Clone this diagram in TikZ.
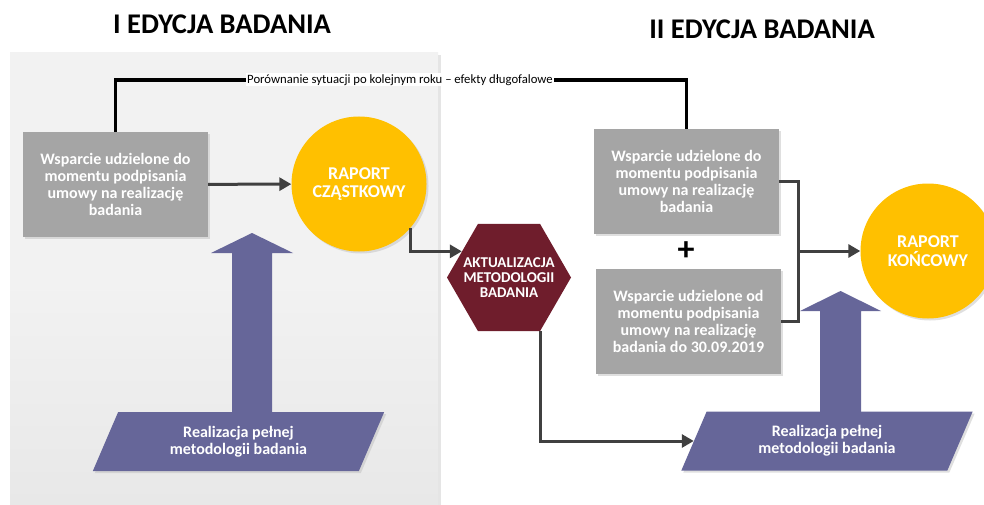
\documentclass[tikz,border=0pt]{standalone}
\usepackage{fontspec}
\setmainfont{Carlito}
\usetikzlibrary{positioning}
\usetikzlibrary{shapes.geometric}
\usetikzlibrary{arrows.meta}
\usetikzlibrary{shadows}

\definecolor{boxgray}{HTML}{A5A5A5}
\definecolor{raportyellow}{HTML}{FFC000}
\definecolor{methodred}{HTML}{6F1D2C}
\definecolor{realpurple}{HTML}{666699}
\definecolor{linegray}{HTML}{404040}
\definecolor{paneltop}{HTML}{F2F2F2}
\definecolor{panelbottom}{HTML}{E8E8E8}

\tikzset{
  softshadow/.style={drop shadow={shadow xshift=2pt, shadow yshift=-2pt, fill=black!25, opacity=0.5}},
  edtitle/.style={font=\bfseries\fontsize{28.5}{32}\selectfont},
  wspbox/.style={fill=boxgray, text=white, softshadow, align=center, inner sep=0pt,
    minimum width=185pt, minimum height=105pt, font=\bfseries\fontsize{16}{16.8}\selectfont},
  raport/.style={circle, fill=raportyellow, text=white, softshadow, align=center, inner sep=0pt,
    minimum size=135pt, font=\bfseries\fontsize{18}{18.5}\selectfont},
  aktual/.style={regular polygon, regular polygon sides=6, fill=methodred, inner sep=2pt, minimum size=124pt},
  akttext/.style={text=white, align=center, inner sep=0pt, font=\bfseries\fontsize{15}{15}\selectfont},
  realiz/.style={trapezium, trapezium left angle=65, trapezium right angle=115, trapezium stretches=true,
    fill=realpurple, text=white, softshadow, align=center, inner sep=0pt, minimum height=59pt,
    minimum width=292pt, font=\bfseries\fontsize{16}{17}\selectfont},
  bigarrow/.style={fill=realpurple},
  conn/.style={draw=linegray, line width=3pt, -{Triangle[length=12pt, width=13pt]}},
  joinline/.style={draw=linegray, line width=3pt},
  longterm/.style={draw=black, line width=3.5pt}
}

\begin{document}
\begin{tikzpicture}[x=1pt, y=-1pt]
    \useasboundingbox (0, 0) rectangle (984, 505);

    \fill [top color=paneltop, bottom color=panelbottom, middle color=paneltop] (10, 53) rectangle (438, 505);
    \fill [black!10] (438, 55) rectangle (441, 505);

    \node [edtitle] (ed1) at (222, 24) {I EDYCJA BADANIA};
    \node [edtitle] (ed2) at (762, 29) {II EDYCJA BADANIA};

    \node [wspbox] (wsp1) at (115.5, 184.5) {Wsparcie udzielone do\\momentu podpisania\\umowy na realizację\\badania};
    \node [raport] (rap1) at (359, 184) {RAPORT\\CZĄSTKOWY};
    \node [realiz] (real1) at (238.5, 441.5) {Realizacja pełnej\\metodologii badania};

    \node [aktual] (akt) at (509, 277.5) {};
    \node [akttext] (akttxt) at (akt) {AKTUALIZACJA\\METODOLOGII\\BADANIA};

    \node [wspbox] (wsp2) at (686.5, 181.5) {Wsparcie udzielone do\\momentu podpisania\\umowy na realizację\\badania};
    \node [font=\bfseries\fontsize{34}{34}\selectfont] (plus) at (686, 251) {+};
    \node [wspbox] (wsp3) at (688.5, 321.5) {Wsparcie udzielone od\\momentu podpisania\\umowy na realizację\\badania do 30.09.2019};
    \node [raport] (rap2) at (928, 251) {RAPORT\\KOŃCOWY};
    \node [realiz] (real2) at (827, 441) {Realizacja pełnej\\metodologii badania};

    % big arrows from the full methodology
    \fill [bigarrow] (232, 412) -- (232, 253) -- (211, 253) -- (252, 233) -- (293, 253) -- (272, 253) -- (272, 412) -- cycle;
    \fill [bigarrow] (820, 412) -- (820, 311) -- (800, 311) -- (840.5, 291) -- (881, 311) -- (861, 311) -- (861, 412) -- cycle;

    \coordinate (topmid) at (400, 80);
    \draw [longterm] (wsp1.north) |- (topmid) -| (wsp2.north);
    \node [fill=white, inner sep=1pt, font=\fontsize{12.7}{14}\selectfont] (porown) at (topmid) {Porównanie sytuacji po kolejnym roku – efekty długofalowe};

    \draw [conn] (wsp1) -- (rap1);
    \draw [conn] (rap1.-40) |- (akt.151);
    \draw [conn] (akt.-60) |- (real2.west);

    \coordinate (join) at (798, 251);
    \draw [joinline] (wsp2.east) -| (join) |- (wsp3.east);
    \draw [conn] (join) -- (rap2);
\end{tikzpicture}
\end{document}
